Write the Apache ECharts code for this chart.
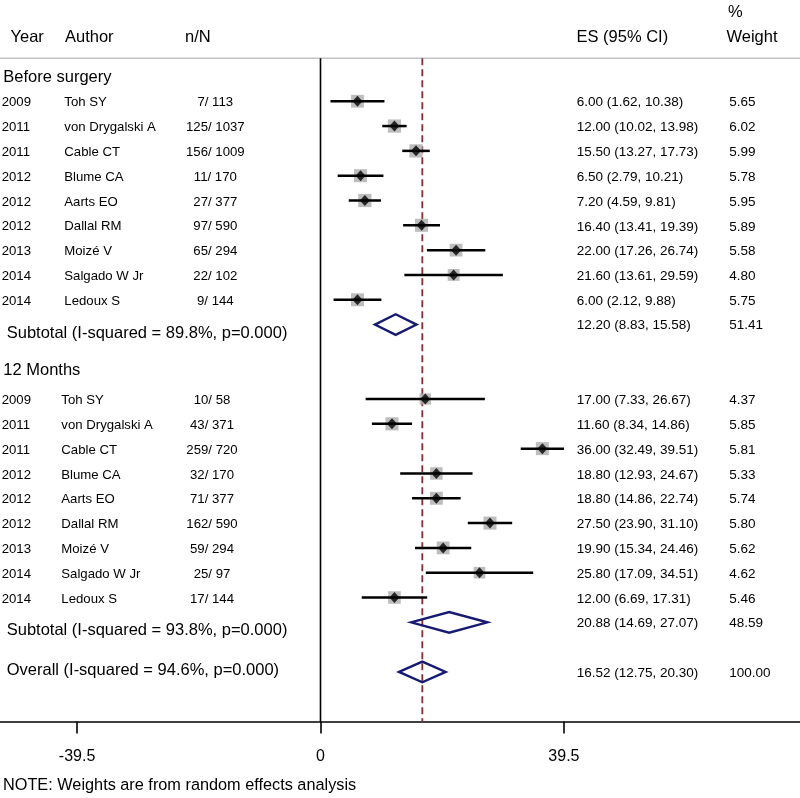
<!DOCTYPE html>
<html><head><meta charset="utf-8">
<script src="https://cdn.jsdelivr.net/npm/echarts@6/dist/echarts.min.js"></script>
<style>html,body{margin:0;padding:0;background:#fff}#c{width:800px;height:798px}</style>
</head><body><div id="c"></div>
<script>
// ---------- data ----------
const groupTitles = ['Before surgery', '12 Months'];
const years = ['2009','2011','2011','2012','2012','2012','2013','2014','2014'];
const authors = ['Toh SY','von Drygalski A','Cable CT','Blume CA','Aarts EO','Dallal RM','Moizé V','Salgado W Jr','Ledoux S'];

const nN_before = ['7/ 113','125/ 1037','156/ 1009','11/ 170','27/ 377','97/ 590','65/ 294','22/ 102','9/ 144'];
const es_before = [6.00,12.00,15.50,6.50,7.20,16.40,22.00,21.60,6.00];
const lo_before = [1.62,10.02,13.27,2.79,4.59,13.41,17.26,13.61,2.12];
const hi_before = [10.38,13.98,17.73,10.21,9.81,19.39,26.74,29.59,9.88];
const w_before  = [5.65,6.02,5.99,5.78,5.95,5.89,5.58,4.80,5.75];

const nN_12 = ['10/ 58','43/ 371','259/ 720','32/ 170','71/ 377','162/ 590','59/ 294','25/ 97','17/ 144'];
const es_12 = [17.00,11.60,36.00,18.80,18.80,27.50,19.90,25.80,12.00];
const lo_12 = [7.33,8.34,32.49,12.93,14.86,23.90,15.34,17.09,6.69];
const hi_12 = [26.67,14.86,39.51,24.67,22.74,31.10,24.46,34.51,17.31];
const w_12  = [4.37,5.85,5.81,5.33,5.74,5.80,5.62,4.62,5.46];

const summaryLabels = ['Subtotal (I-squared = 89.8%, p=0.000)','Subtotal (I-squared = 93.8%, p=0.000)','Overall (I-squared = 94.6%, p=0.000)'];
const summaryES = [12.20, 20.88, 16.52];
const summaryLo = [8.83, 14.69, 12.75];
const summaryHi = [15.58, 27.07, 20.30];
const summaryW  = [51.41, 48.59, 100.00];

const xTicks = [-39.5, 0, 39.5];
const headers = ['Year','Author','n/N','ES (95% CI)','%','Weight'];
const note = 'NOTE: Weights are from random effects analysis';

// ---------- row layout ----------
const studyRows = [];
for (let i = 0; i < years.length; i++) studyRows.push({row: 1 + i, g: 0, year: years[i], author: authors[i], nN: nN_before[i], es: es_before[i], lo: lo_before[i], hi: hi_before[i], w: w_before[i]});
for (let i = 0; i < years.length; i++) studyRows.push({row: 13 + i, g: 1, year: years[i], author: authors[i], nN: nN_12[i], es: es_12[i], lo: lo_12[i], hi: hi_12[i], w: w_12[i]});
const summaryRows = [10, 22, 24].map((r, k) => ({row: r, k, es: summaryES[k], lo: summaryLo[k], hi: summaryHi[k], w: summaryW[k], label: summaryLabels[k]}));
const titleRows = [{row: 0, t: groupTitles[0], dy: 1}, {row: 12, t: groupTitles[1], dy: -4}];

const FONT = '"Liberation Sans", Arial, sans-serif';
const fmt = v => v.toFixed(2);
const esText = (e, l, h) => fmt(e) + ' (' + fmt(l) + ', ' + fmt(h) + ')';

const XMIN = -52, XMAX = 77.8, YTOP = -0.73, YMAX = 26;

function txt(x, y, s, size, align, weight) {
  return {type: 'text', x, y, silent: true, style: {text: s, fontSize: size, fontFamily: FONT, fontWeight: weight || 'normal', fill: '#000', align: align || 'left', verticalAlign: 'middle'}};
}

const chart = echarts.init(document.getElementById('c'), null, {renderer: 'canvas'});
chart.setOption({
  animation: false,
  backgroundColor: '#fff',
  grid: {left: 0, right: 0, top: 0, bottom: 76.4, containLabel: false, outerBoundsMode: 'none'},
  xAxis: {
    type: 'value', min: XMIN, max: XMAX,
    axisLine: {show: true, onZero: false, lineStyle: {color: '#000', width: 1.6}},
    axisTick: {show: true, customValues: xTicks, length: 12, lineStyle: {color: '#000', width: 1.6}},
    axisLabel: {show: true, customValues: xTicks, margin: 27, fontSize: 16, fontFamily: FONT, color: '#000',
      formatter: v => String(v)},
    splitLine: {show: false}
  },
  yAxis: {type: 'value', inverse: true, min: -3.08, max: YMAX, show: false, splitLine: {show: false}},
  graphic: [
    txt(10.5, 37, headers[0], 16.5),
    txt(65, 37, headers[1], 16.5),
    txt(185, 37, headers[2], 16.5),
    txt(576.5, 37, headers[3], 16.5),
    txt(728, 12, headers[4], 16.5),
    txt(726.5, 37, headers[5], 16.5),
    txt(3, 786, note, 16.3)
  ],
  series: [
    { // reference lines
      type: 'custom', silent: true, z: 1,
      data: [[XMIN, YTOP, XMAX, YTOP, 0], [0, YTOP, 0, YMAX, 1], [summaryES[2], YTOP, summaryES[2], YMAX, 2]],
      encode: {x: [0, 2], y: [1, 3]},
      renderItem: (p, api) => {
        const a = api.coord([api.value(0), api.value(1)]);
        const b = api.coord([api.value(2), api.value(3)]);
        const k = api.value(4);
        const style = k === 0 ? {stroke: '#c4c4c4', lineWidth: 1.6}
          : k === 1 ? {stroke: '#000', lineWidth: 1.6}
          : {stroke: '#8e2a36', lineWidth: 1.8, lineDash: [7, 4]};
        return {type: 'line', shape: {x1: a[0], y1: a[1], x2: b[0], y2: b[1]}, style};
      }
    },
    { // weight squares
      type: 'scatter', silent: true, z: 2, symbol: 'rect',
      data: studyRows.map(s => [s.es, s.row, s.w]),
      symbolSize: v => 5.4 * Math.sqrt(v[2]),
      itemStyle: {color: '#adadad'}
    },
    { // CI lines
      type: 'custom', silent: true, z: 3,
      data: studyRows.map(s => [s.lo, s.row, s.hi]),
      encode: {x: [0, 2], y: 1},
      renderItem: (p, api) => {
        const a = api.coord([api.value(0), api.value(1)]);
        const b = api.coord([api.value(2), api.value(1)]);
        return {type: 'line', shape: {x1: a[0], y1: a[1], x2: b[0], y2: b[1]}, style: {stroke: '#000', lineWidth: 2.5}};
      }
    },
    { // point estimates
      type: 'scatter', silent: true, z: 4, symbol: 'diamond', symbolSize: [10, 11],
      data: studyRows.map(s => [s.es, s.row]),
      itemStyle: {color: '#000'}
    },
    { // summary diamonds
      type: 'custom', silent: true, z: 4,
      data: summaryRows.map(s => [s.es, s.row, s.lo, s.hi]),
      encode: {x: [0, 2, 3], y: 1},
      renderItem: (p, api) => {
        const e = api.value(0), r = api.value(1), l = api.value(2), h = api.value(3);
        const pts = [[l, r], [e, r - 0.415], [h, r], [e, r + 0.415]].map(q => api.coord(q));
        return {type: 'polygon', shape: {points: pts}, style: {fill: 'none', stroke: '#161a70', lineWidth: 2.4}};
      }
    },
    { // study text columns
      type: 'custom', silent: true, z: 5,
      data: studyRows.map((s, i) => [0, s.row, i]),
      encode: {x: 0, y: 1},
      renderItem: (p, api) => {
        const s = studyRows[api.value(2)];
        const y = api.coord([0, api.value(1)])[1] + 1.5;
        const ax = s.g === 0 ? 64.3 : 61.3;
        const nx = s.g === 0 ? 215.3 : 212;
        return {type: 'group', children: [
          txt(1.7, y, s.year, 13.2),
          txt(ax, y, s.author, 13.2),
          txt(nx, y, s.nN, 13.2, 'center'),
          txt(576.7, y, esText(s.es, s.lo, s.hi), 13.5),
          txt(729.3, y, fmt(s.w), 13.5)
        ]};
      }
    },
    { // summary text
      type: 'custom', silent: true, z: 5,
      data: summaryRows.map((s, i) => [0, s.row, i]),
      encode: {x: 0, y: 1},
      renderItem: (p, api) => {
        const s = summaryRows[api.value(2)];
        const y = api.coord([0, api.value(1)])[1];
        const dy = s.k === 2 ? -2 : 8.5;
        return {type: 'group', children: [
          txt(6.7, y + dy, s.label, 16.5),
          txt(576.7, y + 1, esText(s.es, s.lo, s.hi), 13.5),
          txt(729.3, y + 1, fmt(s.w), 13.5)
        ]};
      }
    },
    { // group titles
      type: 'custom', silent: true, z: 5,
      data: titleRows.map((t, i) => [0, t.row, i]),
      encode: {x: 0, y: 1},
      renderItem: (p, api) => {
        const t = titleRows[api.value(2)];
        const y = api.coord([0, api.value(1)])[1] + t.dy;
        return txt(3.3, y, t.t, 16.5);
      }
    }
  ]
});
</script></body></html>
